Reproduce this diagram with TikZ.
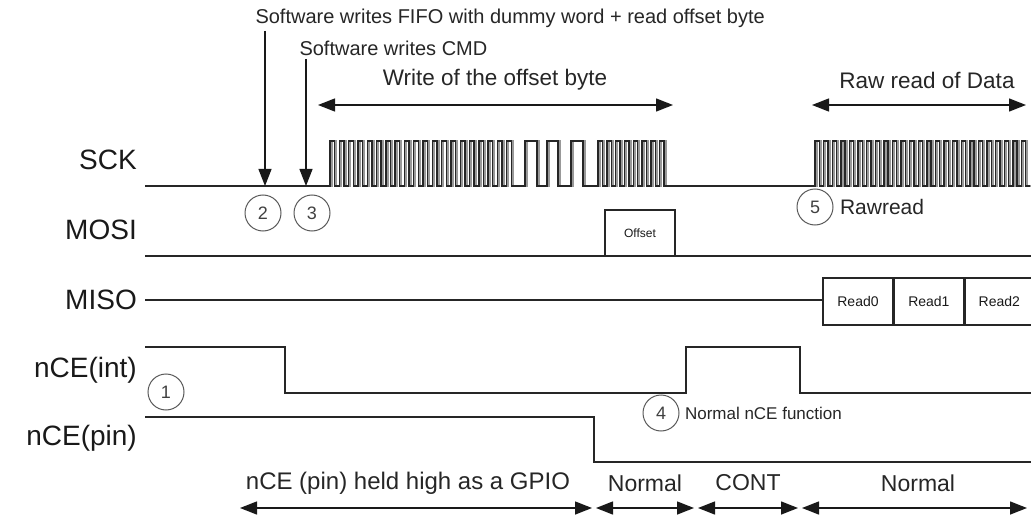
\documentclass[tikz,border=0pt]{standalone}
\usepackage{fontspec}
\setmainfont{Liberation Sans}
\usepackage{xcolor}
\usepackage{tikz}
\usetikzlibrary{arrows.meta,positioning,calc}

% SCK waveform: idle, offset write bursts, raw read burst
\newcommand{\sckwave}{(145,186) -- (330,186)
  \foreach \i in {1,...,20} { -- ++(0,-45) -- ++(4.65,0) -- ++(0,45) -- ++(4.65,0) }
  -- (525,186) |- (537,141) |- (547,186) |- (558,141) |- (571,186) |- (583,141) |- (598,186)
  \foreach \i in {1,...,8} { -- ++(0,-45) -- ++(4.4,0) -- ++(0,45) -- ++(4.4,0) }
  -- (815,186)
  \foreach \i in {1,...,25} { -- ++(0,-45) -- ++(4.3,0) -- ++(0,45) -- ++(4.3,0) }}

\begin{document}
\begin{tikzpicture}[x=1pt, y=-1pt, >={Triangle[length=17pt,width=13pt]}]
\tikzstyle{sig}=[draw=black!85, line width=1.4pt]
\tikzstyle{clkshade}=[draw=black!40, line width=2.2pt, xshift=1.6pt]
\tikzstyle{signame}=[anchor=east, inner sep=0pt, font=\fontsize{28}{30}\selectfont, text=black!90]
\tikzstyle{step num}=[circle, draw=black!65, line width=1pt, minimum size=36pt, inner sep=0pt, font=\fontsize{18}{19}\selectfont, text=black!75]
\tikzstyle{databox}=[draw=black!85, line width=1.4pt, inner sep=0pt, text=black!90]
\tikzstyle{note}=[font=\fontsize{20}{21}\selectfont, text=black!85]
\tikzstyle{head}=[font=\fontsize{22.5}{24}\selectfont, text=black!85]
\tikzstyle{phase}=[font=\fontsize{23}{24}\selectfont, text=black!85]
\tikzstyle{span}=[<->, line width=1.4pt, black!90]
\tikzstyle{ptr}=[->, line width=1.2pt, black!90]

\useasboundingbox (0,0) rectangle (1031,516);

% Signal names
\node[signame] (sck)  at (137,160) {SCK};
\node[signame] (mosi) at (137,230) {MOSI};
\node[signame] (miso) at (137,300) {MISO};
\node[signame] (cint) at (137,370) {nCE(int)};
\node[signame] (cpin) at (137,438) {nCE(pin)};

% Waveforms
\draw[clkshade] \sckwave;
\draw[sig] \sckwave;
\draw[sig] (145,256) -- (1031,256);
\draw[sig] (145,300) -- (823,300);
\draw[sig] (145,347) -| (285,393) -| (686,347) -| (800,393) -- (1031,393);
\draw[sig] (145,417) -| (594,462) -- (1031,462);

% Data on MOSI / MISO
\node[databox, minimum width=70pt, minimum height=46pt, font=\fontsize{12}{13}\selectfont] (offset) at (640,233) {Offset};
\node[databox, minimum width=70pt, minimum height=47pt, font=\fontsize{14}{15}\selectfont] (rd0) at (858,301.5) {Read0};
\node[databox, minimum width=69pt, minimum height=47pt, font=\fontsize{14}{15}\selectfont, right=0pt of rd0] (rd1) {Read1};
\node[databox, minimum width=69pt, minimum height=47pt, font=\fontsize{14}{15}\selectfont, right=0pt of rd1] (rd2) {Read2};

% Numbered steps
\node[step num] (n1) at (166,392) {1};
\node[step num] (n2) at (263,213) {2};
\node[step num] (n3) at (312,213) {3};
\node[step num] (n4) at (661,413) {4};
\node[step num] (n5) at (815,207) {5};
\node[right=2pt of n4, font=\fontsize{17}{18}\selectfont, text=black!85] (n4txt) {Normal nCE function};
\node[right=3pt of n5, font=\fontsize{21}{22}\selectfont, text=black!85] (n5txt) {Rawread};

% Software actions
\node[note, anchor=west] (fifo) at (252,18) {Software writes FIFO with dummy word + read offset byte};
\node[note, anchor=west] (cmd) at (296,48) {Software writes CMD};
\coordinate (t2) at (265,186);
\coordinate (t3) at (306,186);
\draw[ptr] (fifo.south -| t2) -- (t2);
\draw[ptr] (cmd.south -| t3) -- (t3);

% Transfers on SCK
\coordinate (w1) at (318,105);
\coordinate (w2) at (673,105);
\draw[span] (w1) -- (w2);
\node[head] (wlbl) at (495,80) {Write of the offset byte};
\coordinate (r1) at (812,105);
\coordinate (r2) at (1026,105);
\draw[span] (r1) -- (r2);
\node[head] (rlbl) at (927,80) {Raw read of Data};

% nCE(pin) modes
\coordinate (p0) at (240,508);
\coordinate (p1) at (592,508);
\coordinate (p2) at (596,508);
\coordinate (p3) at (694,508);
\coordinate (p4) at (698,508);
\coordinate (p5) at (798,508);
\coordinate (p6) at (802,508);
\coordinate (p7) at (1027,508);
\draw[span] (p0) -- (p1);
\draw[span] (p2) -- (p3);
\draw[span] (p4) -- (p5);
\draw[span] (p6) -- (p7);
\node[phase, font=\fontsize{24}{25}\selectfont] (m1) at (408,483) {nCE (pin) held high as a GPIO};
\node[phase] (m2) at (645,483) {Normal};
\node[phase] (m3) at (748,483) {CONT};
\node[phase] (m4) at (918,483) {Normal};
\end{tikzpicture}
\end{document}
